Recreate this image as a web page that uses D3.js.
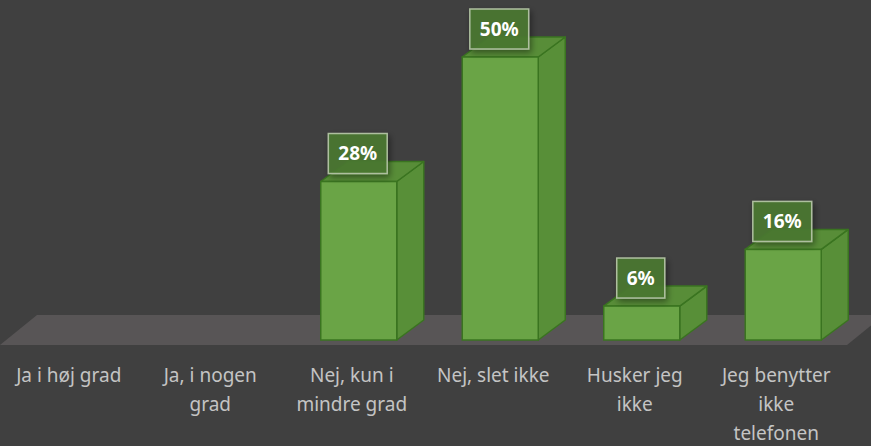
<!DOCTYPE html>
<html>
<head>
<meta charset="utf-8">
<script src="https://cdn.jsdelivr.net/npm/d3@7"></script>
<style>
  body { margin: 0; background: #404040; }
  svg { display: block; }
  .cat-label { fill: #c4c4c4; font-family: "Noto Sans", sans-serif; font-size: 19px; }
  .val-label { fill: #fff; font-family: "Noto Sans", sans-serif; font-size: 19px; font-weight: bold; }
</style>
</head>
<body>
<svg class="chart"></svg>
<script>
var categories = ["Ja i høj grad", "Ja, i nogen grad", "Nej, kun i mindre grad", "Nej, slet ikke", "Husker jeg ikke", "Jeg benytter ikke telefonen"];
var labelLines = [["Ja i høj grad"], ["Ja, i nogen", "grad"], ["Nej, kun i", "mindre grad"], ["Nej, slet ikke"], ["Husker jeg", "ikke"], ["Jeg benytter", "ikke", "telefonen"]];
var values = [0, 0, 28, 50, 6, 16];

var width = 871,
    height = 446,
    base = 340,       // front bottom of the bars
    barW = 76,
    depth = {x: 27, y: -20},
    floorDepth = {x: 37, y: -30};

var data = categories.map(function(c, i) { return {cat: c, lines: labelLines[i], value: values[i]}; });

var svg = d3.select(".chart")
    .attr("width", width)
    .attr("height", height);

svg.append("rect")
    .attr("width", width)
    .attr("height", height)
    .attr("fill", "#404040");

var x = d3.scaleBand()
    .domain(categories)
    .range([-2, 847]);

var y = d3.scaleLinear()
    .domain([0, 50])
    .range([base, 57]);

// floor
var fy = base + 5;
svg.append("polygon")
    .attr("points", [[0, fy], [847, fy], [847 + floorDepth.x, fy + floorDepth.y], [floorDepth.x, fy + floorDepth.y]].join(" "))
    .attr("fill", "#585556");

function barX(d) { return x(d.cat) + x.bandwidth() / 2 - barW / 2 + 7; }

var bars = svg.selectAll(".bar")
    .data(data.filter(function(d) { return d.value > 0; }))
  .enter().append("g")
    .attr("class", "bar");

// side face
bars.append("polygon")
    .attr("points", function(d) {
      var x1 = barX(d) + barW, yt = y(d.value);
      return [[x1, base], [x1 + depth.x, base + depth.y], [x1 + depth.x, yt + depth.y], [x1, yt]].join(" ");
    })
    .attr("fill", "#588f38")
    .attr("stroke", "#3a7420")
    .attr("stroke-width", 1.5)
    .attr("stroke-linejoin", "round");

// top face
bars.append("polygon")
    .attr("points", function(d) {
      var x0 = barX(d), yt = y(d.value);
      return [[x0, yt], [x0 + barW, yt], [x0 + barW + depth.x, yt + depth.y], [x0 + depth.x, yt + depth.y]].join(" ");
    })
    .attr("fill", "#588d38")
    .attr("stroke", "#3a7420")
    .attr("stroke-width", 1.5)
    .attr("stroke-linejoin", "round");

// front face
bars.append("rect")
    .attr("x", barX)
    .attr("y", function(d) { return y(d.value); })
    .attr("width", barW)
    .attr("height", function(d) { return base - y(d.value); })
    .attr("fill", "#6aa446")
    .attr("stroke", "#3a7420")
    .attr("stroke-width", 1.5);

// value labels
var defs = svg.append("defs");
var shadow = defs.append("filter").attr("id", "shadow").attr("x", "-30%").attr("y", "-30%").attr("width", "160%").attr("height", "160%");
shadow.append("feGaussianBlur").attr("in", "SourceAlpha").attr("stdDeviation", 3);
shadow.append("feOffset").attr("dx", 2).attr("dy", 3).attr("result", "b");
shadow.append("feComponentTransfer").append("feFuncA").attr("type", "linear").attr("slope", 0.45);
var merge = shadow.append("feMerge");
merge.append("feMergeNode");
merge.append("feMergeNode").attr("in", "SourceGraphic");

var labels = bars.append("g")
    .attr("transform", function(d) { return "translate(" + (barX(d) + barW / 2 - 1) + "," + (y(d.value) - 28) + ")"; });

labels.append("rect")
    .attr("fill", "#4b7932")
    .attr("fill-opacity", 0.9)
    .attr("stroke", "#aebf9f")
    .attr("stroke-width", 1.5)
    .attr("filter", "url(#shadow)");

labels.append("text")
    .attr("class", "val-label")
    .attr("text-anchor", "middle")
    .attr("dy", "0.36em")
    .text(function(d) { return d.value + "%"; });

labels.each(function() {
  var g = d3.select(this),
      w = g.select("text").node().getComputedTextLength() + 20,
      h = 40;
  g.select("rect")
      .attr("x", -w / 2)
      .attr("y", -h / 2)
      .attr("width", w)
      .attr("height", h);
});

// category labels
svg.selectAll(".cat-label")
    .data(data)
  .enter().append("text")
    .attr("class", "cat-label")
    .attr("text-anchor", "middle")
    .attr("x", function(d) { return x(d.cat) + x.bandwidth() / 2; })
    .attr("y", 382)
    .each(function(d) {
      var t = d3.select(this);
      d.lines.forEach(function(line, i) {
        t.append("tspan")
          .attr("x", t.attr("x"))
          .attr("dy", i === 0 ? 0 : 29)
          .text(line);
      });
    });
</script>
</body>
</html>
